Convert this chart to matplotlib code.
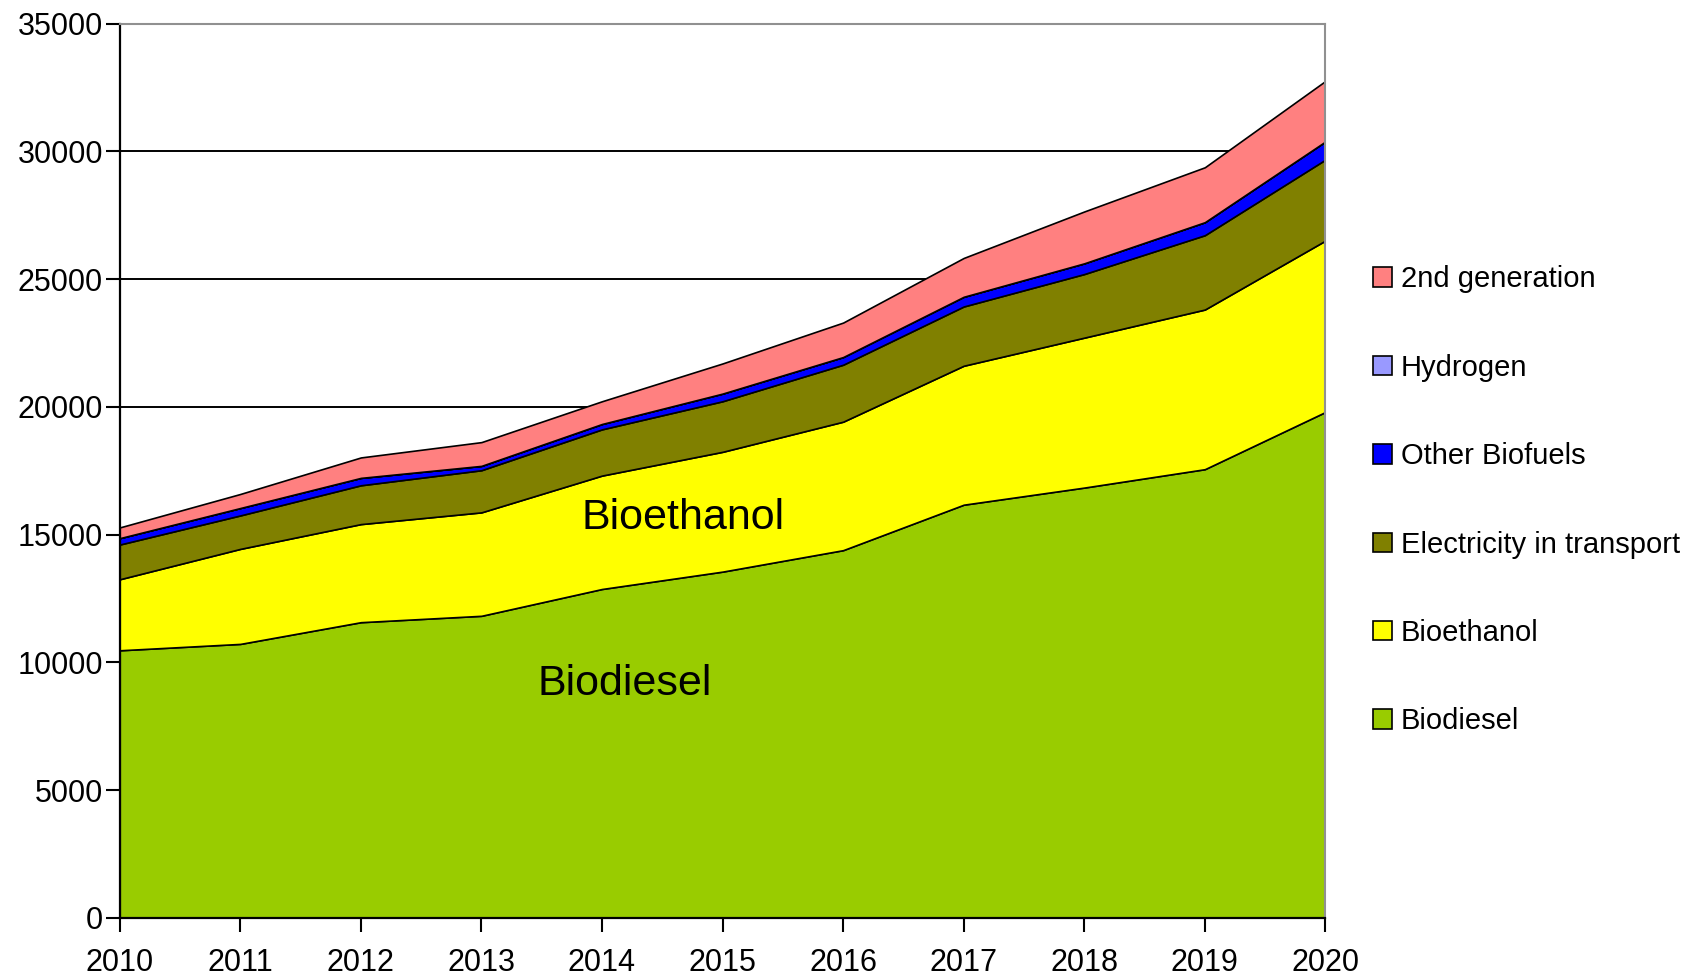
import numpy as np
from matplotlib import pyplot as plt
from matplotlib.patches import Patch

plt.rcParams['font.family'] = ['Liberation Sans', 'DejaVu Sans']

years = list(range(2010, 2021))

# layer values (stacked bottom to top)
biodiesel = [10470, 10720, 11570, 11820, 12870, 13550, 14390, 16170, 16840, 17560, 19800]
bioethanol = [2780, 3720, 3840, 4050, 4440, 4690, 5030, 5440, 5870, 6250, 6710]
electricity = [1360, 1310, 1520, 1650, 1810, 1980, 2230, 2320, 2490, 2910, 3170]
other_biofuels = [250, 290, 290, 170, 210, 300, 300, 380, 420, 510, 710]
hydrogen = [0, 0, 0, 0, 0, 0, 0, 0, 0, 0, 0]
second_gen = [420, 550, 800, 930, 890, 1180, 1350, 1520, 2030, 2150, 2370]

names = ["Biodiesel", "Bioethanol", "Electricity in transport",
         "Other Biofuels", "Hydrogen", "2nd generation"]
colors = ["#99CC00", "#FFFF00", "#808000", "#0000FF", "#9999FF", "#FF8080"]
layers = [biodiesel, bioethanol, electricity, other_biofuels, hydrogen, second_gen]

fig = plt.figure(figsize=(16.91, 9.76), dpi=100)
ax = fig.add_axes([0.0708, 0.0597, 0.7130, 0.9160])

# gridlines behind the areas
ax.set_axisbelow(True)
ax.yaxis.grid(True, color="black", linewidth=1.4)

ax.stackplot(years, *layers, colors=colors, edgecolor="black", linewidth=1.2, zorder=2)

ax.set_xlim(2010, 2020)
ax.set_ylim(0, 35000)
ax.set_xticks(years)
ax.set_yticks(range(0, 35001, 5000))
ax.tick_params(direction="out", length=10, width=1.5, labelsize=22, pad=2)
ax.tick_params(axis="x", pad=12)

for side in ["left", "bottom"]:
    ax.spines[side].set_color("black")
    ax.spines[side].set_linewidth(1.6)
for side in ["top", "right"]:
    ax.spines[side].set_color("#909090")
    ax.spines[side].set_linewidth(1.5)

ax.text(2014.67, 15660, "Bioethanol", fontsize=31, ha="center", va="center", zorder=5)
ax.text(2014.19, 9160, "Biodiesel", fontsize=31, ha="center", va="center", zorder=5)

handles = [Patch(facecolor=c, edgecolor="black", linewidth=1.2, label=n)
           for n, c in zip(names, colors)][::-1]
fig.legend(handles=handles, loc="upper left", bbox_to_anchor=(0.805, 0.740),
           frameon=False, fontsize=21, handlelength=0.65, handleheight=0.65,
           handletextpad=0.3, labelspacing=2.07, borderaxespad=0)

fig.savefig("out.png", dpi=100)
